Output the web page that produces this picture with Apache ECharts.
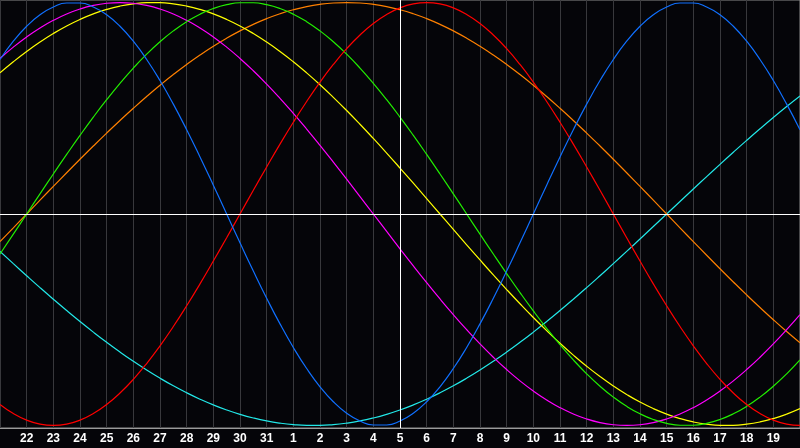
<!DOCTYPE html>
<html>
<head>
<meta charset="utf-8">
<script src="https://cdn.jsdelivr.net/npm/echarts@6/dist/echarts.min.js"></script>
<style>
html,body{margin:0;padding:0;background:#050509;}
#chart{width:800px;height:448px;}
</style>
</head>
<body>
<div id="chart"></div>
<script>
// Day labels at each whole-day gridline (first and last are the plot edges)
const days = ['21','22','23','24','25','26','27','28','29','30','31','1','2','3','4','5','6','7','8','9','10','11','12','13','14','15','16','17','18','19','20'];
const todayLabel = '5';
const samplesPerDay = 2; // values below are read every half day

const physical = [0.7308,0.8170,0.8879,0.9423,0.9791,0.9977,0.9977,0.9791,0.9423,0.8879,0.8170,0.7308,0.6311,0.5196,0.3984,0.2698,0.1362,0,-0.1362,-0.2698,-0.3984,-0.5196,-0.6311,-0.7308,-0.8170,-0.8879,-0.9423,-0.9791,-0.9977,-0.9977,-0.9791,-0.9423,-0.8879,-0.8170,-0.7308,-0.6311,-0.5196,-0.3984,-0.2698,-0.1362,0,0.1362,0.2698,0.3984,0.5196,0.6311,0.7308,0.8170,0.8879,0.9423,0.9791,0.9977,0.9977,0.9791,0.9423,0.8879,0.8170,0.7308,0.6311,0.5196,0.3984];
const emotional = [-0.9010,-0.9439,-0.9749,-0.9937,-1,-0.9937,-0.9749,-0.9439,-0.9010,-0.8467,-0.7818,-0.7071,-0.6235,-0.5320,-0.4339,-0.3303,-0.2225,-0.1120,0,0.1120,0.2225,0.3303,0.4339,0.5320,0.6235,0.7071,0.7818,0.8467,0.9010,0.9439,0.9749,0.9937,1,0.9937,0.9749,0.9439,0.9010,0.8467,0.7818,0.7071,0.6235,0.5320,0.4339,0.3303,0.2225,0.1120,0,-0.1120,-0.2225,-0.3303,-0.4339,-0.5320,-0.6235,-0.7071,-0.7818,-0.8467,-0.9010,-0.9439,-0.9749,-0.9937,-1];
const intellectual = [-0.1893,-0.0951,0,0.0951,0.1893,0.2817,0.3717,0.4582,0.5406,0.6182,0.6901,0.7557,0.8146,0.8660,0.9096,0.9450,0.9718,0.9898,0.9989,0.9989,0.9898,0.9718,0.9450,0.9096,0.8660,0.8146,0.7557,0.6901,0.6182,0.5406,0.4582,0.3717,0.2817,0.1893,0.0951,0,-0.0951,-0.1893,-0.2817,-0.3717,-0.4582,-0.5406,-0.6182,-0.6901,-0.7557,-0.8146,-0.8660,-0.9096,-0.9450,-0.9718,-0.9898,-0.9989,-0.9989,-0.9898,-0.9718,-0.9450,-0.9096,-0.8660,-0.8146,-0.7557,-0.6901];
const intuitive = [0.7357,0.7891,0.8372,0.8794,0.9158,0.9458,0.9694,0.9864,0.9966,1,0.9966,0.9864,0.9694,0.9458,0.9158,0.8794,0.8372,0.7891,0.7357,0.6773,0.6142,0.5469,0.4759,0.4017,0.3247,0.2455,0.1646,0.0826,0,-0.0826,-0.1646,-0.2455,-0.3247,-0.4017,-0.4759,-0.5469,-0.6142,-0.6773,-0.7357,-0.7891,-0.8372,-0.8794,-0.9158,-0.9458,-0.9694,-0.9864,-0.9966,-1,-0.9966,-0.9864,-0.9694,-0.9458,-0.9158,-0.8794,-0.8372,-0.7891,-0.7357,-0.6773,-0.6142,-0.5469,-0.4759];
const aesthetic = [0.6673,0.7199,0.7687,0.8133,0.8535,0.8894,0.9203,0.9464,0.9675,0.9834,0.9940,0.9993,0.9993,0.9940,0.9834,0.9675,0.9464,0.9203,0.8894,0.8535,0.8133,0.7687,0.7199,0.6673,0.6112,0.5517,0.4894,0.4244,0.3572,0.2881,0.2174,0.1456,0.0730,0,-0.0730,-0.1456,-0.2174,-0.2881,-0.3572,-0.4244,-0.4894,-0.5517,-0.6112,-0.6673,-0.7199,-0.7687,-0.8133,-0.8535,-0.8894,-0.9203,-0.9464,-0.9675,-0.9834,-0.9940,-0.9993,-0.9993,-0.9940,-0.9834,-0.9675,-0.9464,-0.9203];
const awareness = [-0.1305,-0.0654,0,0.0654,0.1305,0.1951,0.2588,0.3214,0.3827,0.4423,0.5,0.5556,0.6088,0.6593,0.7071,0.7518,0.7934,0.8315,0.8660,0.8969,0.9239,0.9469,0.9659,0.9808,0.9914,0.9979,1,0.9979,0.9914,0.9808,0.9659,0.9469,0.9239,0.8969,0.8660,0.8315,0.7934,0.7518,0.7071,0.6593,0.6088,0.5556,0.5,0.4423,0.3827,0.3214,0.2588,0.1951,0.1305,0.0654,0,-0.0654,-0.1305,-0.1951,-0.2588,-0.3214,-0.3827,-0.4423,-0.5,-0.5556,-0.6088];
const spiritual = [-0.1769,-0.2349,-0.2920,-0.3482,-0.4031,-0.4566,-0.5085,-0.5586,-0.6068,-0.6529,-0.6966,-0.7379,-0.7765,-0.8125,-0.8456,-0.8757,-0.9028,-0.9267,-0.9473,-0.9646,-0.9786,-0.9890,-0.9961,-0.9996,-0.9996,-0.9961,-0.9890,-0.9786,-0.9646,-0.9473,-0.9267,-0.9028,-0.8757,-0.8456,-0.8125,-0.7765,-0.7379,-0.6966,-0.6529,-0.6068,-0.5586,-0.5085,-0.4566,-0.4031,-0.3482,-0.2920,-0.2349,-0.1769,-0.1183,-0.0592,0,0.0592,0.1183,0.1769,0.2349,0.2920,0.3482,0.4031,0.4566,0.5085,0.5586];

const seriesDefs = [
  {name:'Spiritual', data: spiritual, color:'#22e8e8'},
  {name:'Awareness', data: awareness, color:'#ff8000'},
  {name:'Aesthetic', data: aesthetic, color:'#ffff00'},
  {name:'Intuitive', data: intuitive, color:'#ff00ff'},
  {name:'Intellectual', data: intellectual, color:'#22ee00'},
  {name:'Emotional', data: emotional, color:'#ff0000'},
  {name:'Physical', data: physical, color:'#1070ff'}
];

const chart = echarts.init(document.getElementById('chart'));
const series = seriesDefs.map(function(s){
  return {
    name: s.name, type:'line', smooth: true, showSymbol:false,
    data: s.data.map(function(v, i){ return [i / samplesPerDay, v]; }),
    lineStyle:{color:s.color, width:1.2}, itemStyle:{color:s.color},
    silent:true, z: 3
  };
});
series.push({
  name:'ref', type:'line', data: [], silent:true, z: 2,
  markLine: {
    silent:true, symbol:'none', label:{show:false},
    lineStyle:{color:'#ffffff', width:1, type:'solid'},
    data:[{yAxis:0},{xAxis: days.indexOf(todayLabel)}]
  }
});

chart.setOption({
  animation:false,
  backgroundColor:'#050509',
  grid:{left:0,right:0,top:0,bottom:20,show:true,borderColor:'#8c8c8c',borderWidth:1,backgroundColor:'#050509'},
  xAxis:{
    type:'value', min:0, max:days.length-1, interval:1,
    axisLine:{show:true, onZero:false, lineStyle:{color:'#9a9a9a', width:1}},
    axisTick:{show:false},
    axisLabel:{
      color:'#ffffff', fontWeight:'bold', fontSize:12,
      fontFamily:'"Liberation Sans", Arial, sans-serif', margin:5,
      showMinLabel:false, showMaxLabel:false,
      formatter:function(v){ return (v<=0 || v>=days.length-1) ? '' : days[Math.round(v)]; }
    },
    splitLine:{show:true, lineStyle:{color:'#38383c', width:1}}
  },
  yAxis:{
    type:'value', min:-1.012, max:1.012,
    axisLine:{show:false}, axisTick:{show:false}, axisLabel:{show:false}, splitLine:{show:false}
  },
  series: series
});
</script>
</body>
</html>
